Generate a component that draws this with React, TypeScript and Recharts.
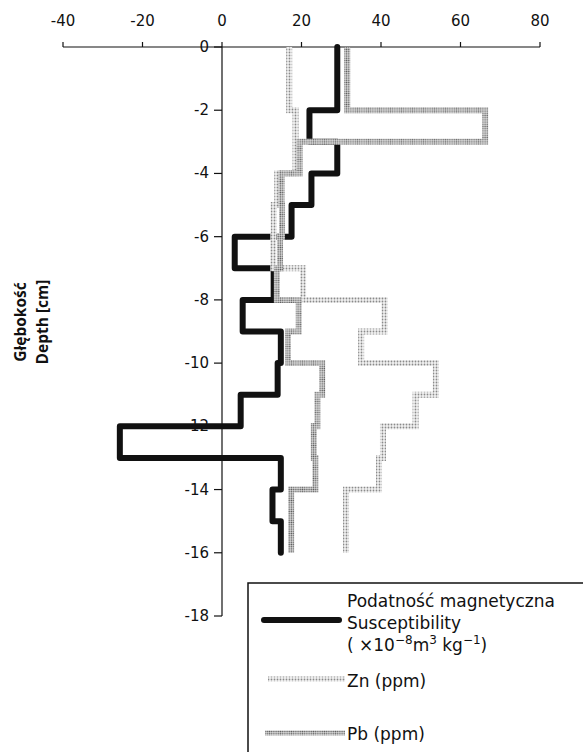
import React from "react";
import { ScatterChart, Scatter, XAxis, YAxis, ReferenceLine } from "recharts";

// depth boundaries (cm), one value per 1 cm slice between them
const depths = [0, -1, -2, -3, -4, -5, -6, -7, -8, -9, -10, -11, -12, -13, -14, -15, -16];
const susceptibility = [29, 29, 22, 29, 22.5, 17.5, 3.2, 13, 5.2, 14.8, 14, 4.7, -25.7, 14.8, 12.7, 14.8];
const zn = [16.9, 16.9, 18.5, 18.5, 13.9, 13, 12.9, 20.4, 40.9, 35, 53.8, 48.7, 40.5, 39.5, 31.2, 31.2];
const pb = [31.5, 31.5, 66.2, 19.5, 15, 15.1, 14.6, 13.8, 19.3, 16.6, 25.2, 24, 23.1, 23.5, 17.4, 17.4];

const xTicks = [-40, -20, 0, 20, 40, 60, 80];
const yTicks = [0, -2, -4, -6, -8, -10, -12, -14, -16, -18];

const W = 583;
const H = 752;
const MARGIN = { top: 7, right: 43, bottom: 136, left: 13 };
const Y_AXIS_W = 50;
const X_AXIS_H = 40;
const FONT = "'DejaVu Sans', sans-serif";
const INK = "#111";

// x pixel of value 0, where the depth axis sits
const plotLeft = MARGIN.left + Y_AXIS_W;
const plotRight = W - MARGIN.right;
const zeroX =
  plotLeft +
  ((0 - xTicks[0]) / (xTicks[xTicks.length - 1] - xTicks[0])) * (plotRight - plotLeft);

// turn per-slice values into a stepped profile
function toSteps(values: number[]) {
  const pts: { x: number; y: number }[] = [];
  values.forEach((v, i) => {
    pts.push({ x: v, y: depths[i] });
    pts.push({ x: v, y: depths[i + 1] });
  });
  return pts;
}

function DepthTick({ y, payload }: any) {
  return (
    <g>
      <line x1={zeroX - 8} x2={zeroX} y1={y} y2={y} stroke={INK} strokeWidth={1.2} />
      <text
        x={zeroX - 13}
        y={y}
        dy={5}
        textAnchor="end"
        fontSize={15}
        fontFamily={FONT}
        fill={INK}
      >
        {payload.value}
      </text>
    </g>
  );
}

const noDot = () => <g />;

function Patterns({ suffix }: { suffix: string }) {
  return (
    <defs>
      <pattern id={"zn" + suffix} width="3" height="3" patternUnits="userSpaceOnUse">
        <rect width="3" height="3" fill="#f2f2f2" />
        <circle cx="1.5" cy="1.5" r="0.9" fill="#8a8a8a" />
      </pattern>
      <pattern id={"pb" + suffix} width="2.2" height="2.2" patternUnits="userSpaceOnUse">
        <rect width="2.2" height="2.2" fill="#dcdcdc" />
        <circle cx="1.1" cy="1.1" r="0.75" fill="#606060" />
      </pattern>
    </defs>
  );
}

function Overlay() {
  return (
    <svg
      width={W}
      height={H}
      style={{ position: "absolute", left: 0, top: 0, pointerEvents: "none" }}
    >
      <Patterns suffix="Leg" />

      {/* axis title */}
      <g fontFamily="'Open Sans', sans-serif" fontWeight="bold" fontSize={15.5} fill={INK}>
        <text x={20} y={322} transform="rotate(-90 20 322)" textAnchor="middle" dominantBaseline="central">
          Głębokość
        </text>
        <text x={42} y={322} transform="rotate(-90 42 322)" textAnchor="middle" dominantBaseline="central">
          Depth [cm]
        </text>
      </g>

      {/* legend box */}
      <rect x={248} y={583} width={400} height={220} fill="#fff" stroke={INK} strokeWidth={1.5} />
      <g fontFamily={FONT} fontSize={17} fill={INK}>
        <line x1={264} x2={339} y1={620} y2={620} stroke={INK} strokeWidth={6} strokeLinecap="round" />
        <text x={347} y={607}>Podatność magnetyczna</text>
        <text x={347} y={629}>Susceptibility</text>
        <text x={347} y={651}>
          ( ×10
          <tspan dy={-7} fontSize={12}>−8</tspan>
          <tspan dy={7}>m</tspan>
          <tspan dy={-7} fontSize={12}>3</tspan>
          <tspan dy={7}> kg</tspan>
          <tspan dy={-7} fontSize={12}>−1</tspan>
          <tspan dy={7}>)</tspan>
        </text>

        <line x1={268} x2={345} y1={679} y2={679} stroke="url(#znLeg)" strokeWidth={5} />
        <text x={347} y={687}>Zn (ppm)</text>

        <line x1={265} x2={345} y1={733} y2={733} stroke="url(#pbLeg)" strokeWidth={5} />
        <text x={347} y={740}>Pb (ppm)</text>
      </g>
    </svg>
  );
}

export default function App() {
  return (
    <div style={{ position: "absolute", left: 0, top: 0, width: W, height: H, background: "#fff" }}>
      <ScatterChart width={W} height={H} margin={MARGIN}>
        <Patterns suffix="Dots" />
        <XAxis
          type="number"
          dataKey="x"
          orientation="top"
          domain={[-40, 80]}
          ticks={xTicks}
          height={X_AXIS_H}
          stroke={INK}
          tickSize={5}
          tickMargin={16}
          tick={{ fontSize: 15, fontFamily: FONT, fill: INK }}
          axisLine={{ stroke: INK, strokeWidth: 1.2 }}
          tickLine={{ stroke: INK, strokeWidth: 1.2 }}
        />
        <YAxis
          type="number"
          dataKey="y"
          domain={[-18, 0]}
          ticks={yTicks}
          width={Y_AXIS_W}
          axisLine={false}
          tickLine={false}
          tick={<DepthTick />}
          interval={0}
        />
        <ReferenceLine x={0} stroke={INK} strokeWidth={1.2} />
        <Scatter
          data={toSteps(susceptibility)}
          fill="none"
          shape={noDot}
          line={{ stroke: INK, strokeWidth: 6, strokeLinejoin: "round", strokeLinecap: "round" }}
          isAnimationActive={false}
        />
        <Scatter
          data={toSteps(zn)}
          fill="none"
          shape={noDot}
          line={{ stroke: "url(#znDots)", strokeWidth: 6 }}
          isAnimationActive={false}
        />
        <Scatter
          data={toSteps(pb)}
          fill="none"
          shape={noDot}
          line={{ stroke: "url(#pbDots)", strokeWidth: 6 }}
          isAnimationActive={false}
        />
      </ScatterChart>
      <Overlay />
    </div>
  );
}
